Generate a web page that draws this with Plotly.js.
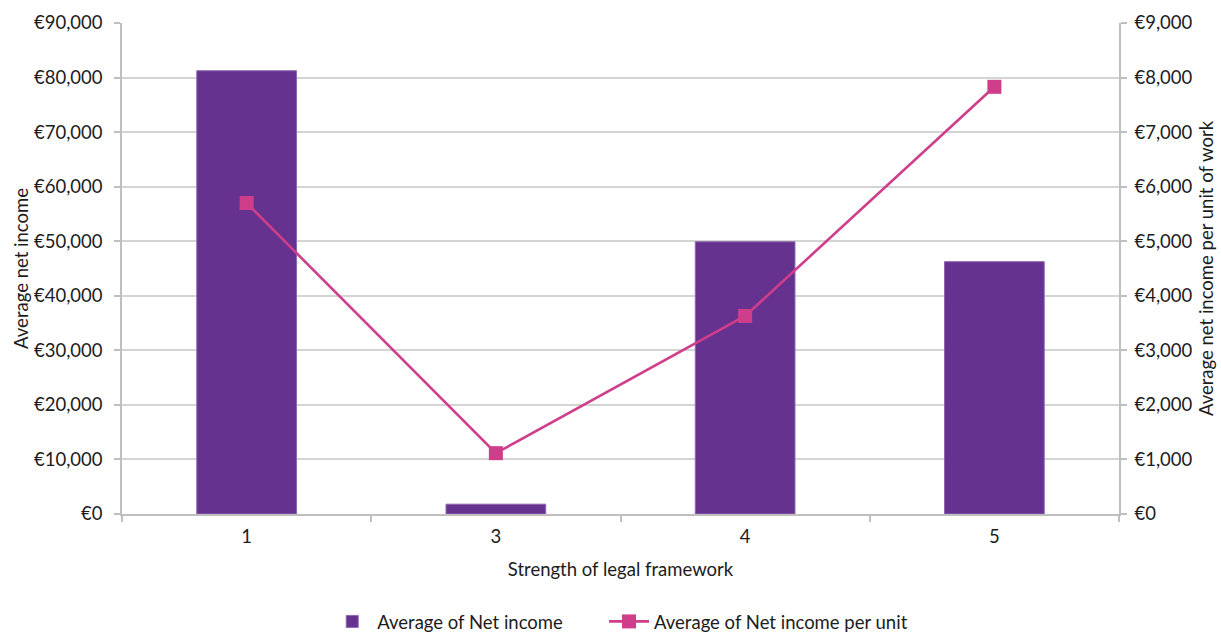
<!DOCTYPE html>
<html>
<head>
<meta charset="utf-8">
<script src="https://cdn.plot.ly/plotly-3.0.1.min.js"></script>
<style>html,body{margin:0;padding:0;background:#fff;}#chart{width:1221px;height:632px;}</style>
</head>
<body>
<div id="chart"></div>
<script>
const categories = ['1', '3', '4', '5'];
const netIncome = [81250, 1800, 49900, 46250];
const netIncomePerUnit = [5700, 1115, 3630, 7830];
const leftTicks = [0, 10000, 20000, 30000, 40000, 50000, 60000, 70000, 80000, 90000];
const rightTicks = [0, 1000, 2000, 3000, 4000, 5000, 6000, 7000, 8000, 9000];
const seriesNames = ['Average of Net income', 'Average of Net income per unit'];

const euro = v => '\u20AC' + v.toLocaleString('en-US');
const leftText = leftTicks.map(euro);
const rightText = rightTicks.map(euro);

const FONT = 'Lato, "Open Sans", sans-serif';
const txt = '#1c1c1c';
const FS = 18.5;

const traces = [
  {
    type: 'bar', x: categories, y: netIncome, name: seriesNames[0],
    marker: {color: '#663290', line: {color: '#8d66b0', width: 1}},
    yaxis: 'y', legend: 'legend'
  },
  {
    type: 'scatter', mode: 'lines+markers', x: categories, y: netIncomePerUnit, name: seriesNames[1],
    line: {color: '#cf3e8b', width: 2.6},
    marker: {symbol: 'square', size: 14, color: '#cf3e8b'},
    yaxis: 'y2', legend: 'legend2'
  }
];

const legendBase = {
  orientation: 'h', xanchor: 'left', xref: 'container',
  y: 0.016, yanchor: 'middle', yref: 'container',
  font: {family: FONT, size: FS, color: txt}, itemwidth: 40
};

const layout = {
  width: 1221, height: 632,
  margin: {l: 122, r: 102, t: 23, b: 118},
  paper_bgcolor: '#fff', plot_bgcolor: '#fff',
  font: {family: FONT, size: FS, color: txt},
  bargap: 0.6,
  showlegend: true,
  legend: Object.assign({}, legendBase, {x: 0.268}),
  legend2: Object.assign({}, legendBase, {x: 0.4947}),
  xaxis: {
    type: 'category', categoryorder: 'array', categoryarray: categories,
    showline: true, linecolor: '#bfbfbf', linewidth: 1.5,
    ticks: 'outside', tickson: 'boundaries', ticklen: 6, tickcolor: '#bfbfbf', tickwidth: 1.5,
    showgrid: false, zeroline: false, automargin: true,
    tickfont: {family: FONT, size: FS, color: txt},
    ticklabelstandoff: 5,
    title: {text: 'Strength of legal framework', font: {family: FONT, size: FS, color: txt}, standoff: 17}
  },
  yaxis: {
    range: [0, 90000], tickvals: leftTicks, ticktext: leftText,
    showline: true, linecolor: '#bfbfbf', linewidth: 1.5,
    ticks: 'outside', ticklen: 6, tickcolor: '#bfbfbf', tickwidth: 1.5,
    showgrid: true, gridcolor: '#d4d4d4', gridwidth: 1.5, zeroline: false, automargin: false,
    tickfont: {family: FONT, size: FS, color: txt},
    ticklabelstandoff: 8,
    title: {text: 'Average net income', font: {family: FONT, size: FS, color: txt}}
  },
  yaxis2: {
    range: [0, 9000], tickvals: rightTicks, ticktext: rightText,
    overlaying: 'y', side: 'right',
    showline: true, linecolor: '#bfbfbf', linewidth: 1.5,
    ticks: 'outside', ticklen: 6, tickcolor: '#bfbfbf', tickwidth: 1.5,
    showgrid: false, zeroline: false, automargin: false,
    tickfont: {family: FONT, size: FS, color: txt},
    ticklabelstandoff: 4,
    title: {text: 'Average net income per unit of work', font: {family: FONT, size: FS, color: txt}}
  }
};

Plotly.newPlot('chart', traces, layout, {displayModeBar: false, responsive: false});
</script>
</body>
</html>
